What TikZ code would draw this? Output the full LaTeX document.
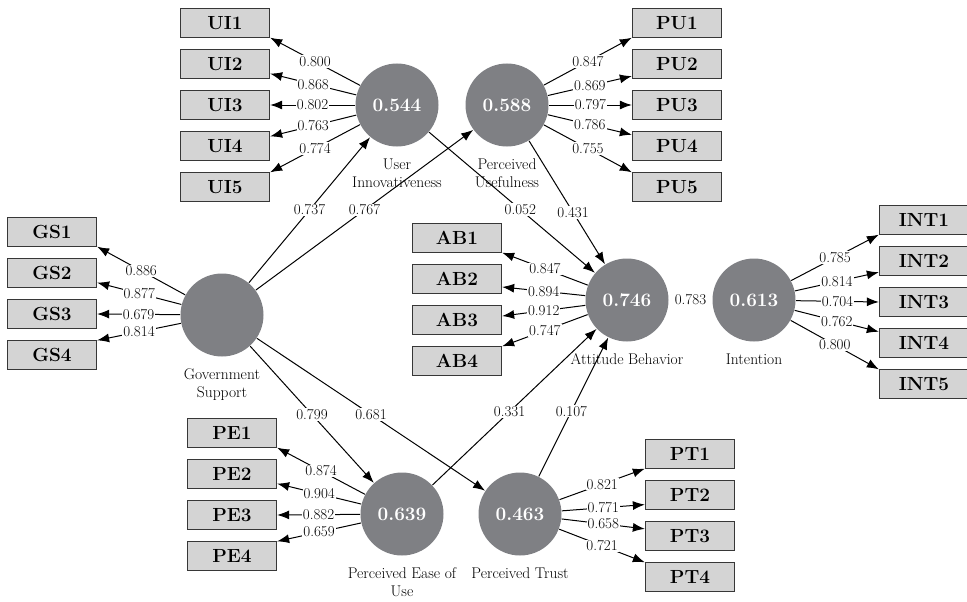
\documentclass[tikz,border=0pt]{standalone}
\usepackage{fontspec}
\usetikzlibrary{arrows.meta}
\definecolor{lvfill}{RGB}{127,128,132}
\definecolor{mvfill}{RGB}{212,212,212}
\definecolor{mvdraw}{RGB}{55,55,55}

\begin{document}
\begin{tikzpicture}[x=1pt,y=-1pt,->,>={Latex[length=12pt,width=9pt]},line width=1pt,node distance=41pt,
  latent/.style={circle,fill=lvfill,minimum size=83pt,inner sep=0pt,text=white,font=\fontsize{19}{22}\selectfont\bfseries},
  indicator/.style={rectangle,draw=mvdraw,fill=mvfill,line width=1.3pt,minimum width=89pt,minimum height=29pt,inner sep=0pt,font=\fontsize{19}{22}\selectfont\bfseries},
  lvname/.style={anchor=north,align=center,inner sep=0pt,yshift=-11pt,font=\fontsize{15.5}{18}\selectfont},
  loading/.style={fill=white,inner sep=1pt,font=\fontsize{15}{17}\selectfont}]

  \useasboundingbox (0,0) rectangle (967,602);

  \node[latent] (gs) at (222,315) {};
  \node[latent] (ui) at (397,105) {0.544};
  \node[latent] (pu) at (507,105) {0.588};
  \node[latent] (ab) at (627,300) {0.746};
  \node[latent] (int) at (754,300) {0.613};
  \node[latent] (pe) at (402,514) {0.639};
  \node[latent] (pt) at (520,514) {0.463};

  \node[lvname] (gsn) at (gs.south) {Government\\Support};
  \node[lvname] (uin) at (ui.south) {User\\Innovativeness};
  \node[lvname] (pun) at (pu.south) {Perceived\\Usefulness};
  \node[lvname] (abn) at (ab.south) {Attitude Behavior};
  \node[lvname] (intn) at (int.south) {Intention};
  \node[lvname] (pen) at (pe.south) {Perceived Ease of\\Use};
  \node[lvname] (ptn) at (pt.south) {Perceived Trust};

  \node[indicator] (ui1) at (225,23) {UI1};
  \node[indicator] (ui2) [below of=ui1] {UI2};
  \node[indicator] (ui3) [below of=ui2] {UI3};
  \node[indicator] (ui4) [below of=ui3] {UI4};
  \node[indicator] (ui5) [below of=ui4] {UI5};

  \node[indicator] (pu1) at (677,23) {PU1};
  \node[indicator] (pu2) [below of=pu1] {PU2};
  \node[indicator] (pu3) [below of=pu2] {PU3};
  \node[indicator] (pu4) [below of=pu3] {PU4};
  \node[indicator] (pu5) [below of=pu4] {PU5};

  \node[indicator] (gs1) at (52,232) {GS1};
  \node[indicator] (gs2) [below of=gs1] {GS2};
  \node[indicator] (gs3) [below of=gs2] {GS3};
  \node[indicator] (gs4) [below of=gs3] {GS4};

  \node[indicator] (ab1) at (457,238) {AB1};
  \node[indicator] (ab2) [below of=ab1] {AB2};
  \node[indicator] (ab3) [below of=ab2] {AB3};
  \node[indicator] (ab4) [below of=ab3] {AB4};

  \node[indicator] (int1) at (924,220) {INT1};
  \node[indicator] (int2) [below of=int1] {INT2};
  \node[indicator] (int3) [below of=int2] {INT3};
  \node[indicator] (int4) [below of=int3] {INT4};
  \node[indicator] (int5) [below of=int4] {INT5};

  \node[indicator] (pe1) at (232,433) {PE1};
  \node[indicator] (pe2) [below of=pe1] {PE2};
  \node[indicator] (pe3) [below of=pe2] {PE3};
  \node[indicator] (pe4) [below of=pe3] {PE4};

  \node[indicator] (pt1) at (690,454) {PT1};
  \node[indicator] (pt2) [below of=pt1] {PT2};
  \node[indicator] (pt3) [below of=pt2] {PT3};
  \node[indicator] (pt4) [below of=pt3] {PT4};

  \path
    (ui) edge node[loading] {0.800} (ui1.-18)
         edge node[loading] {0.868} (ui2.-12)
         edge node[loading] {0.802} (ui3.east)
         edge node[loading] {0.763} (ui4.12)
         edge node[loading] {0.774} (ui5.18)
    (pu) edge node[loading] {0.847} (pu1.198)
         edge node[loading] {0.869} (pu2.195)
         edge node[loading] {0.797} (pu3.west)
         edge node[loading] {0.786} (pu4.166)
         edge node[loading] {0.755} (pu5.162)
    (gs) edge node[loading] {0.886} (gs1.-18)
         edge node[loading] {0.877} (gs2.-12)
         edge node[loading] {0.679} (gs3.east)
         edge node[loading] {0.814} (gs4.18)
    (ab) edge node[loading] {0.847} (ab1.-18)
         edge node[loading] {0.894} (ab2.-10)
         edge node[loading] {0.912} (ab3.5)
         edge node[loading] {0.747} (ab4.18)
    (int) edge node[loading] {0.785} (int1.198)
          edge node[loading] {0.814} (int2.194)
          edge node[loading] {0.704} (int3.west)
          edge node[loading] {0.762} (int4.166)
          edge node[loading] {0.800} (int5.162)
    (pe) edge node[loading] {0.874} (pe1.-18)
         edge node[loading] {0.904} (pe2.-12)
         edge node[loading] {0.882} (pe3.east)
         edge node[loading] {0.659} (pe4.18)
    (pt) edge node[loading] {0.821} (pt1.198)
         edge node[loading] {0.771} (pt2.192)
         edge node[loading] {0.658} (pt3.171)
         edge node[loading] {0.721} (pt4.162);

  \path
    (gs) edge node[loading] {0.737} (ui)
         edge node[loading] {0.767} (pu)
         edge node[loading] {0.799} (pe)
         edge node[loading] {0.681} (pt)
    (ui) edge node[loading,pos=0.55] {0.052} (ab)
    (pu) edge node[loading,pos=0.58] {0.431} (ab)
    (pe) edge node[loading,pos=0.47] {0.331} (ab)
    (pt) edge node[loading,pos=0.47] {0.107} (ab);

  \path[-] (ab) -- node[loading] (abint) {0.783} (int);
\end{tikzpicture}
\end{document}
